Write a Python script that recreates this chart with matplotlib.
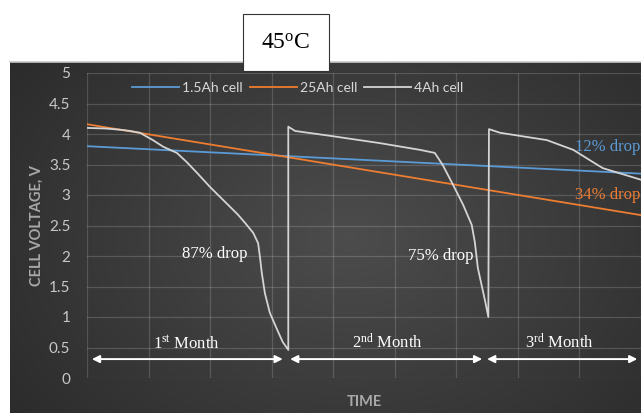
import matplotlib.pyplot as plt
import numpy as np
from matplotlib.patches import Rectangle
from matplotlib.lines import Line2D

plt.rcParams['mathtext.fontset'] = 'custom'
plt.rcParams['mathtext.rm'] = 'Liberation Serif'
plt.rcParams['mathtext.it'] = 'Liberation Serif:italic'

# --- data ---
time_15ah = [0, 9]
volt_15ah = [3.80, 3.35]
time_25ah = [0, 9]
volt_25ah = [4.16, 2.67]
time_4ah = [0, 0.30, 0.54, 0.70, 0.86, 1.07, 1.24, 1.46, 1.62, 1.79, 2.00, 2.16, 2.32,
            2.45, 2.57, 2.70, 2.78, 2.81, 2.84, 2.89, 2.97, 3.09, 3.18, 3.27,
            3.27, 3.38, 3.95, 4.76, 5.41, 5.65, 5.78, 5.95, 6.11, 6.25, 6.30, 6.35,
            6.42, 6.47, 6.52,
            6.53, 6.71, 7.47, 7.90, 8.17, 8.38, 9.0]
volt_4ah = [4.10, 4.09, 4.07, 4.05, 4.02, 3.90, 3.79, 3.69, 3.54, 3.36, 3.13, 2.97, 2.81,
            2.68, 2.54, 2.38, 2.21, 1.98, 1.72, 1.39, 1.07, 0.79, 0.59, 0.46,
            4.12, 4.05, 3.97, 3.85, 3.74, 3.69, 3.49, 3.16, 2.84, 2.51, 2.23, 1.80,
            1.48, 1.25, 1.00,
            4.08, 4.02, 3.90, 3.74, 3.57, 3.44, 3.25]

series_labels = ['1.5Ah cell', '25Ah cell', '4Ah cell']
series_colors = ['#5b9bd5', '#ed7d31', '#d4d4d4']

y_ticks = [0, 0.5, 1, 1.5, 2, 2.5, 3, 3.5, 4, 4.5, 5]
y_tick_labels = ['0', '0.5', '1', '1.5', '2', '2.5', '3', '3.5', '4', '4.5', '5']

drop_texts = ['87% drop', '75% drop', '12% drop', '34% drop']
drop_x = [2.08, 5.74, 7.93, 7.93]
drop_y = [2.03, 2.00, 3.79, 3.00]
drop_colors = ['white', 'white', '#5b9bd5', '#ed7d31']

month_labels = ['1$^{\\rm st}$ Month', '2$^{\\rm nd}$ Month', '3$^{\\rm rd}$ Month']
month_start = [0.08, 3.30, 6.50]
month_end = [3.18, 6.42, 8.94]
month_centre = [1.62, 4.88, 7.68]
arrow_level = 0.31
month_text_level = 0.57

W, H = 641, 413
fig = plt.figure(figsize=(W / 100, H / 100), dpi=100)
fig.patch.set_facecolor('white')

# dark chart background with a soft radial gradient
bg = fig.add_axes([10 / W, 0, (W - 10) / W, (H - 62) / H], zorder=-2)
yy, xx = np.mgrid[0:351, 0:631]
r = np.sqrt(((xx - 340) / 420.0) ** 2 + ((yy - 175) / 300.0) ** 2)
shade = np.clip(0.30 - 0.13 * r, 0.16, 0.30)
bg.imshow(np.dstack([shade] * 3), aspect='auto', interpolation='bilinear')
bg.axis('off')
fig.add_artist(Line2D([10 / W, 1], [(H - 62) / H] * 2, transform=fig.transFigure,
                      color='#c8c8c8', lw=1.2, zorder=-1))

ax = fig.add_axes([87 / W, (H - 378) / H, (W - 87) / W, (378 - 73) / H])
ax.set_facecolor('none')

ax.plot(time_15ah, volt_15ah, color=series_colors[0], lw=1.3, label=series_labels[0])
ax.plot(time_25ah, volt_25ah, color=series_colors[1], lw=1.3, label=series_labels[1])
ax.plot(time_4ah, volt_4ah, color=series_colors[2], lw=1.3, label=series_labels[2])

ax.set_xlim(0, 9)
ax.set_ylim(0, 5)
ax.set_xticks(range(0, 10))
ax.set_yticks(y_ticks)
ax.set_yticklabels(y_tick_labels)
ax.tick_params(axis='x', labelbottom=False, length=0)
ax.tick_params(axis='y', length=0, pad=12, labelsize=11, labelcolor='#c8c8c8')
for lab in ax.get_yticklabels():
    lab.set_fontfamily('Lato')
ax.grid(True, color='white', alpha=0.16, lw=0.9)
for s in ax.spines.values():
    s.set_visible(False)

ax.set_ylabel('CELL VOLTAGE, V', fontfamily='Lato', fontweight='bold', fontsize=10.5,
              color='#a8a8a8', labelpad=4)
ax.set_xlabel('TIME', fontfamily='Lato', fontweight='bold', fontsize=10.5,
              color='#a8a8a8', labelpad=12)

leg = ax.legend(loc='center', bbox_to_anchor=(0.38, 0.95), ncol=3, frameon=False,
                handlelength=3.4, handletextpad=0.2, columnspacing=0.5,
                prop={'family': 'Lato', 'size': 10})
for t in leg.get_texts():
    t.set_color('#d9d9d9')

for txt, x, y, c in zip(drop_texts, drop_x, drop_y, drop_colors):
    ha = 'center' if c == 'white' else 'left'
    ax.text(x, y, txt, color=c, fontfamily='Liberation Serif', fontsize=12,
            ha=ha, va='center', clip_on=False)

for lab, x0, x1, xc in zip(month_labels, month_start, month_end, month_centre):
    ax.annotate('', xy=(x1, arrow_level), xytext=(x0, arrow_level),
                arrowprops=dict(arrowstyle='<|-|>', color='white', lw=1.4,
                                mutation_scale=11, shrinkA=0, shrinkB=0))
    ax.text(xc, month_text_level, lab, color='white', fontfamily='Liberation Serif',
            fontsize=12, ha='center', va='center')

# title box
fig.add_artist(Rectangle((243 / W, (H - 71) / H), 86 / W, 57 / H, transform=fig.transFigure,
                         facecolor='white', edgecolor='#333333', lw=0.8, zorder=5))
fig.text(286 / W, (H - 43) / H, '45$^{\\rm o}$C', fontsize=17, ha='center', va='center',
         fontfamily='Liberation Serif', zorder=6)

fig.savefig('out.png', dpi=100)
